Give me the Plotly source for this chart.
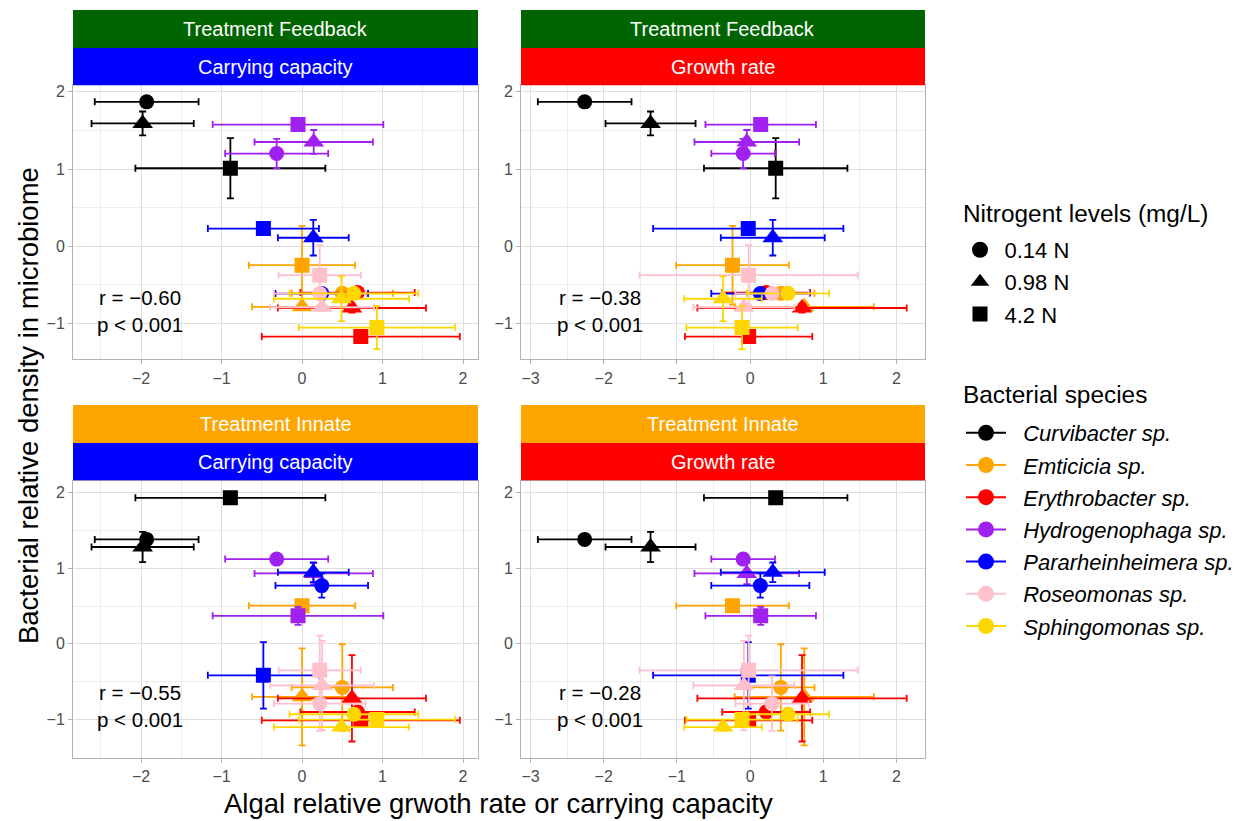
import plotly.graph_objects as go

# ---------------- data ----------------
species = ["Curvibacter sp.", "Emticicia sp.", "Erythrobacter sp.", "Hydrogenophaga sp.",
           "Pararheinheimera sp.", "Roseomonas sp.", "Sphingomonas sp."]
colors = ["#000000", "#FFA500", "#FF0000", "#A020F0", "#0000FF", "#FFC0CB", "#FFD700"]
n_levels = ["0.14 N", "0.98 N", "4.2 N"]
symbols = ["circle", "triangle-up", "square"]

# algal relative carrying capacity (mean, error) per species x [0.14, 0.98, 4.2 N]
cc_x = [[-1.93, -1.98, -0.89], [0.50, 0.0, 0.0], [0.69, 0.62, 0.73], [-0.315, 0.145, -0.05],
        [0.245, 0.14, -0.48], [0.22, 0.25, 0.22], [0.645, 0.49, 0.93]]
cc_xerr = [[0.645, 0.635, 1.18], [0.63, 0.62, 0.66], [0.71, 0.92, 1.23], [0.64, 0.735, 1.06],
           [0.575, 0.44, 0.69], [0.57, 0.645, 0.51], [0.80, 0.84, 0.97]]
# algal relative growth rate
gr_x = [[-2.26, -1.36, 0.35], [0.42, 0.74, -0.24], [0.22, 0.71, -0.02], [-0.095, -0.045, 0.145],
        [0.14, 0.31, -0.025], [0.30, -0.085, -0.02], [0.52, -0.37, -0.11]]
gr_xerr = [[0.64, 0.615, 0.98], [0.46, 0.95, 0.77], [0.60, 1.43, 0.87], [0.435, 0.715, 0.755],
           [0.67, 0.71, 1.30], [0.50, 0.69, 1.49], [0.56, 0.53, 0.76]]
# bacterial relative density, treatment Feedback
fb_y = [[1.87, 1.59, 1.01], [-0.61, -0.785, -0.246], [-0.60, -0.80, -1.17], [1.20, 1.35, 1.575],
        [-0.613, 0.11, 0.228], [-0.613, -0.79, -0.375], [-0.61, -0.68, -1.053]]
fb_yerr = [[0.03, 0.155, 0.39], [0.04, 0.04, 0.51], [0.04, 0.06, 0.04], [0.19, 0.155, 0.04],
           [0.03, 0.23, 0.04], [0.03, 0.04, 0.39], [0.04, 0.29, 0.28]]
# bacterial relative density, treatment Innate
in_y = [[1.38, 1.28, 1.93], [-0.575, -0.70, 0.505], [-0.90, -0.72, -1.01], [1.12, 0.93, 0.37],
        [0.77, 0.945, -0.416], [-0.79, -0.55, -0.35], [-0.93, -1.10, -1.0]]
in_yerr = [[0.04, 0.20, 0.04], [0.57, 0.64, 0.06], [0.05, 0.57, 0.05], [0.04, 0.14, 0.12],
           [0.16, 0.13, 0.44], [0.36, 0.59, 0.46], [0.05, 0.05, 0.05]]

treatments = ["Treatment Feedback", "Treatment Feedback", "Treatment Innate", "Treatment Innate"]
responses = ["Carrying capacity", "Growth rate", "Carrying capacity", "Growth rate"]
r_labels = ["r = \u22120.60", "r = \u22120.38", "r = \u22120.55", "r = \u22120.28"]
p_labels = ["p < 0.001", "p < 0.001", "p < 0.001", "p < 0.001"]

# ---------------- layout constants ----------------
W, H = 1247, 821
FONT = "Liberation Sans"
treat_colors = {"Treatment Feedback": "#006400", "Treatment Innate": "#FFA500"}
resp_colors = {"Carrying capacity": "#0000FF", "Growth rate": "#FF0000"}
marker_sizes = [15, 18, 15]
legend_sizes = [16, 19, 15]


def fx(px):
    return px / W


def fy(py):
    return 1 - py / H


col_px = [(73, 478), (521, 925)]
row_px = [(83.5, 358.3), (480, 757.7)]
strip_px = [((8, 46), (46, 83.5)), ((404, 442), (442, 479.5))]
xranges = [[-2.845, 2.186], [-3.13, 2.39]]
yranges = [[-1.466, 2.084], [-1.506, 2.154]]
stat_x = [-2.01, -2.05]
stat_y = [(-0.67, -1.02), (-0.64, -1.0)]

fig = go.Figure()

panel_data = [(cc_x, cc_xerr, fb_y, fb_yerr), (gr_x, gr_xerr, fb_y, fb_yerr),
              (cc_x, cc_xerr, in_y, in_yerr), (gr_x, gr_xerr, in_y, in_yerr)]

shapes, annotations = [], []
grid_major = "#DEDEDE"
grid_minor = "#EDEDED"
border = "#B3B3B3"

for k, (xs, xe, ys, ye) in enumerate(panel_data):
    r, c = divmod(k, 2)
    sfx = "" if k == 0 else str(k + 1)
    for i in range(len(species)):
        fig.add_trace(go.Scatter(
            x=xs[i], y=ys[i], mode="markers",
            marker=dict(symbol=symbols, color=colors[i], size=marker_sizes, opacity=1,
                        line=dict(width=0)),
            error_x=dict(type="data", array=xe[i], color=colors[i], thickness=1.8, width=3.5),
            error_y=dict(type="data", array=ye[i], color=colors[i], thickness=1.8, width=3.5),
            xaxis="x" + sfx, yaxis="y" + sfx, showlegend=False, hoverinfo="skip"))
    x0, x1 = col_px[c]
    y0, y1 = row_px[r]
    axcommon = dict(showline=True, mirror=True, linecolor=border, linewidth=1,
                    ticks="outside", ticklen=4, tickcolor=border, tickwidth=1,
                    showgrid=True, gridcolor=grid_major, gridwidth=1, zeroline=False,
                    tickfont=dict(family=FONT, size=16, color="#4D4D4D"),
                    minor=dict(dtick=0.5, showgrid=True, gridcolor=grid_minor, gridwidth=0.7))
    fig.update_layout(**{
        "xaxis" + sfx: dict(domain=[fx(x0), fx(x1)], range=xranges[c], dtick=1,
                            anchor="y" + sfx, **axcommon),
        "yaxis" + sfx: dict(domain=[fy(y1), fy(y0)], range=yranges[r], dtick=1,
                            anchor="x" + sfx, **axcommon),
    })
    # strips
    (t0, t1), (s0, s1) = strip_px[r]
    shapes.append(dict(type="rect", xref="paper", yref="paper", x0=fx(x0), x1=fx(x1),
                       y0=fy(t1), y1=fy(t0), fillcolor=treat_colors[treatments[k]],
                       line=dict(width=0), layer="above"))
    shapes.append(dict(type="rect", xref="paper", yref="paper", x0=fx(x0), x1=fx(x1),
                       y0=fy(s1), y1=fy(s0), fillcolor=resp_colors[responses[k]],
                       line=dict(width=0), layer="above"))
    annotations.append(dict(xref="paper", yref="paper", x=fx((x0 + x1) / 2), y=fy((t0 + t1) / 2),
                            xanchor="center", yanchor="middle",
                            text=treatments[k], showarrow=False,
                            font=dict(family=FONT, size=20, color="white")))
    annotations.append(dict(xref="paper", yref="paper", x=fx((x0 + x1) / 2), y=fy((s0 + s1) / 2),
                            xanchor="center", yanchor="middle",
                            text=responses[k], showarrow=False,
                            font=dict(family=FONT, size=20, color="white")))
    # stats
    annotations.append(dict(xref="x" + sfx, yref="y" + sfx, x=stat_x[c], y=stat_y[r][0],
                            xanchor="center", yanchor="middle",
                            text=r_labels[k], showarrow=False,
                            font=dict(family=FONT, size=20.5, color="black")))
    annotations.append(dict(xref="x" + sfx, yref="y" + sfx, x=stat_x[c], y=stat_y[r][1],
                            xanchor="center", yanchor="middle",
                            text=p_labels[k], showarrow=False,
                            font=dict(family=FONT, size=20.5, color="black")))

# axis titles
annotations.append(dict(xref="paper", yref="paper", x=fx(28), y=fy(405),
                        xanchor="center", yanchor="middle",
                        text="Bacterial relative density in microbiome", textangle=-90,
                        showarrow=False, font=dict(family=FONT, size=27.5, color="black")))
annotations.append(dict(xref="paper", yref="paper", x=fx(498), y=fy(803),
                        xanchor="center", yanchor="middle",
                        text="Algal relative grwoth rate or carrying capacity",
                        showarrow=False, font=dict(family=FONT, size=27.5, color="black")))
# legend titles
annotations.append(dict(xref="paper", yref="paper", x=fx(961), y=fy(212),
                        xanchor="left", yanchor="middle", text="Nitrogent levels (mg/L)",
                        showarrow=False, font=dict(family=FONT, size=24.4, color="black")))
annotations.append(dict(xref="paper", yref="paper", x=fx(961), y=fy(393),
                        xanchor="left", yanchor="middle", text="Bacterial species",
                        showarrow=False, font=dict(family=FONT, size=24.4, color="black")))

# legend entries
for j in range(3):
    fig.add_trace(go.Scatter(x=[None], y=[None], mode="markers", name=n_levels[j],
                             marker=dict(symbol=symbols[j], color="black", size=legend_sizes[j]),
                             legend="legend", legendgroup="n%d" % j, showlegend=True))
for i in range(len(species)):
    fig.add_trace(go.Scatter(x=[None], y=[None], mode="lines+markers",
                             name="&nbsp;&nbsp;<i>%s</i>" % species[i],
                             line=dict(color=colors[i], width=2),
                             marker=dict(symbol="circle", color=colors[i], size=17),
                             legend="legend2", legendgroup="s%d" % i, showlegend=True))

fig.update_layout(
    width=W, height=H, margin=dict(l=0, r=0, t=0, b=0),
    paper_bgcolor="white", plot_bgcolor="white",
    shapes=shapes, annotations=annotations,
    font=dict(family=FONT),
    legend=dict(x=fx(955.5), y=fy(227.5), xanchor="left", yanchor="top",
                font=dict(family=FONT, size=22, color="black"), tracegroupgap=0.5,
                itemwidth=39, bgcolor="rgba(0,0,0,0)"),
    legend2=dict(x=fx(961), y=fy(411), xanchor="left", yanchor="top",
                 font=dict(family=FONT, size=22, color="black"), tracegroupgap=0.6,
                 itemwidth=40, bgcolor="rgba(0,0,0,0)"),
)

fig.write_html("out.html")
